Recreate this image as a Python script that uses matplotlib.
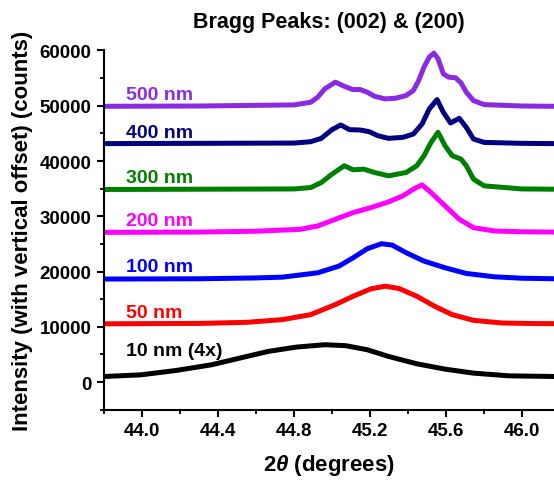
import matplotlib
matplotlib.use("Agg")
import matplotlib.pyplot as plt
from matplotlib.ticker import MultipleLocator

plt.rcParams["font.family"] = ["Liberation Sans", "DejaVu Sans"]
plt.rcParams["font.weight"] = "bold"
plt.rcParams["mathtext.fontset"] = "custom"
plt.rcParams["mathtext.it"] = "Liberation Sans:italic:bold"
plt.rcParams["mathtext.rm"] = "Liberation Sans:bold"

# values (2theta in degrees, counts with offset)
x_500 = [43.80, 44.30, 44.80, 44.888, 44.925, 44.962, 45.018, 45.065, 45.11, 45.149, 45.186,
         45.224, 45.28, 45.335, 45.39, 45.429, 45.457, 45.485, 45.513, 45.537, 45.559, 45.587,
         45.615, 45.652, 45.68, 45.708, 45.746, 45.802, 46.0, 46.17]
y_500 = [49900, 49950, 50150, 50630, 51540, 53050, 54260, 53530, 52930, 52930, 52450,
         51720, 51240, 51360, 51840, 52750, 54560, 56980, 58800, 59520, 58500, 55770,
         55170, 55050, 54140, 52450, 50930, 50210, 49950, 49900]

x_400 = [43.80, 44.30, 44.80, 44.888, 44.944, 45.0, 45.046, 45.093, 45.149, 45.196, 45.242,
         45.298, 45.373, 45.429, 45.475, 45.513, 45.554, 45.587, 45.625, 45.671, 45.708,
         45.746, 45.802, 46.0, 46.17]
y_400 = [43150, 43200, 43250, 43490, 44100, 45670, 46520, 45670, 45610, 45310, 44580,
         44100, 44280, 44880, 46700, 49420, 51120, 48820, 46880, 47730, 46090,
         43980, 43370, 43200, 43150]

x_300 = [43.80, 44.30, 44.80, 44.888, 44.944, 45.0, 45.065, 45.112, 45.168, 45.224, 45.298,
         45.391, 45.447, 45.485, 45.522, 45.559, 45.596, 45.634, 45.68, 45.708, 45.746,
         45.802, 46.0, 46.17]
y_300 = [34850, 34900, 34950, 35200, 36110, 37620, 39140, 38410, 38530, 37930, 37320,
         37930, 39140, 40950, 43370, 45190, 42770, 40950, 40350, 39140, 36720,
         35510, 34950, 34900]

x_200 = [43.80, 44.30, 44.60, 44.832, 44.925, 45.018, 45.112, 45.205, 45.298, 45.373, 45.429,
         45.475, 45.522, 45.596, 45.671, 45.746, 45.858, 46.0, 46.17]
y_200 = [27100, 27150, 27300, 27640, 28250, 29460, 30670, 31570, 32600, 33690, 34900,
         35690, 34300, 31880, 29460, 27940, 27340, 27200, 27150]

x_100 = [43.80, 44.30, 44.60, 44.739, 44.925, 45.037, 45.112, 45.186, 45.261, 45.317, 45.391,
         45.485, 45.596, 45.708, 45.858, 46.0, 46.17]
y_100 = [18650, 18700, 18850, 18990, 19780, 20990, 22500, 24130, 25040, 24800, 23410,
         21900, 20690, 19660, 19050, 18800, 18700]

x_50 = [43.80, 44.30, 44.552, 44.739, 44.888, 45.018, 45.112, 45.205, 45.28, 45.354, 45.447,
        45.541, 45.634, 45.746, 45.895, 46.05, 46.17]
y_50 = [10550, 10620, 10820, 11310, 12210, 14030, 15540, 16870, 17360, 16930, 15540,
        13730, 12210, 11180, 10700, 10600, 10580]

x_10 = [43.80, 43.993, 44.179, 44.366, 44.515, 44.664, 44.813, 44.962, 45.074, 45.186, 45.298,
        45.447, 45.596, 45.746, 45.932, 46.17]
y_10 = [1020, 1320, 2110, 3140, 4350, 5560, 6340, 6770, 6590, 5860, 4650,
        3320, 2350, 1630, 1140, 1020]

labels = ["500 nm", "400 nm", "300 nm", "200 nm", "100 nm", "50 nm", "10 nm (4x)"]
label_y = [52050, 45250, 37070, 29150, 20870, 12520, 5680]
colors = ["#8A2BE2", "#000080", "#008000", "#FF00FF", "#0000FF", "#FF0000", "#000000"]
series = [(x_500, y_500), (x_400, y_400), (x_300, y_300), (x_200, y_200),
          (x_100, y_100), (x_50, y_50), (x_10, y_10)]

fig = plt.figure(figsize=(5.54, 4.81), dpi=100)
ax = fig.add_axes([0.188, 0.146, 0.812, 0.747])

for (xs, ys), c, lab, ly in zip(series, colors, labels, label_y):
    ax.plot(xs, ys, color=c, lw=3.6, solid_joinstyle="round")
    ax.text(43.917, ly, lab, color=c, fontsize=14, fontweight="bold",
            ha="left", va="center")

ax.set_xlim(43.8, 46.17)
ax.set_ylim(-5000, 60000)
ax.xaxis.set_major_locator(MultipleLocator(0.4))
ax.xaxis.set_minor_locator(MultipleLocator(0.2))
ax.yaxis.set_major_locator(MultipleLocator(10000))
ax.yaxis.set_minor_locator(MultipleLocator(5000))
ax.xaxis.set_major_formatter(plt.FormatStrFormatter("%.1f"))

for side in ["top", "right"]:
    ax.spines[side].set_visible(False)
for side in ["left", "bottom"]:
    ax.spines[side].set_linewidth(1.5)

ax.tick_params(which="major", direction="out", length=5, width=1.5, labelsize=13.5, pad=4)
ax.tick_params(which="minor", direction="out", length=3, width=1.3)
for t in ax.get_xticklabels() + ax.get_yticklabels():
    t.set_fontweight("bold")

ax.set_xlabel(r"2$\theta$ (degrees)", fontsize=16, fontweight="bold")
ax.xaxis.set_label_coords(0.50, -0.118)
ax.set_ylabel("Intensity (with vertical offset) (counts)", fontsize=16, fontweight="bold")
ax.yaxis.set_label_coords(-0.158, 0.50)
ax.set_title("Bragg Peaks: (002) & (200)", fontsize=15.5, fontweight="bold", pad=17)

fig.savefig("out.png", dpi=100)
